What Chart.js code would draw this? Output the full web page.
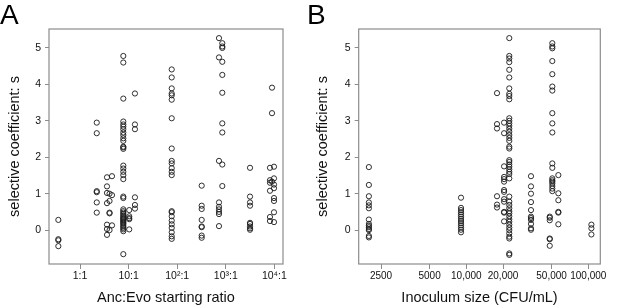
<!DOCTYPE html>
<html>
<head>
<meta charset="utf-8">
<script src="https://cdn.jsdelivr.net/npm/chart.js@4.4.1/dist/chart.umd.min.js"></script>
<style>
  body { margin: 0; background: #fff; }
  .wrap { position: relative; width: 617px; height: 308px; font-family: 'Liberation Sans', Arial, sans-serif; }
  .panel { position: absolute; top: 0; }
  .letter { position: absolute; top: 1px; font-size: 28px; line-height: 28px; color: #000; }
</style>
</head>
<body>
<div class="wrap">
  <canvas id="chartA" class="panel" width="308" height="308" style="left:0"></canvas>
  <canvas id="chartB" class="panel" width="309" height="308" style="left:308px"></canvas>
  <div class="letter" style="left:0">A</div>
  <div class="letter" style="left:307px">B</div>
</div>
<script>
// y axis (shared)
const yTicks = [0, 1, 2, 3, 4, 5];

// panel A: Anc:Evo starting ratio (jittered columns), selective coefficient per column
const ratioTicksA = [1, 10, 100, 1000, 10000];
const ratioLabelsA = ['1:1', '10:1', '10²:1', '10³:1', '10⁴:1'];
const ratioA = [0.358, 2.21, 3.59, 4.05, 4.55, 7.78, 10.3, 13.5, 77.1, 319, 724, 847, 3150, 8110, 8930, 9810];
const sA = [
  [0.28, -0.25, -0.28, -0.44],
  [2.95, 2.66, 1.07, 1.04, 0.76, 0.48],
  [1.45, 1.20, 1.02, 0.74, 0.15, 0.03, -0.13],
  [1.00, 0.80, 0.48, 0.46, 0.0],
  [1.48, 0.96, 0.13],
  [4.78, 4.60, 3.61, 2.98, 2.90, 2.84, 2.77, 2.68, 2.61, 2.52, 2.45, 2.29, 2.27, 2.23, 1.77, 1.69,
   1.60, 1.51, 1.40, 0.92, 0.88, 0.57, 0.52, 0.48, 0.44, 0.40, 0.36, 0.33, 0.30, 0.27, 0.24, 0.21,
   0.18, 0.14, 0.10, 0.06, 0.02, -0.03, -0.66],
  [0.55, 0.38, 0.33, 0.30, 0.02],
  [3.75, 2.90, 2.77, 0.90, 0.69, 0.59],
  [4.41, 4.19, 3.89, 3.75, 3.70, 3.58, 3.07, 2.24, 1.90, 1.83, 1.70, 1.60, 1.51, 0.52, 0.49, 0.38,
   0.26, 0.16, 0.06, -0.06, -0.17, -0.24],
  [1.22, 0.67, 0.58, 0.28, 0.10, 0.08, -0.15, -0.21],
  [5.27, 4.74, 1.90, 0.76, 0.64, 0.57, 0.50, 0.44, 0.11],
  [5.13, 5.04, 5.00, 4.62, 4.26, 3.77, 2.93, 2.68, 1.80, 1.21],
  [1.71, 0.92, 0.76, 0.67, 0.20, 0.17, 0.10, 0.05, 0.01],
  [1.71, 1.37, 1.30, 1.08, 0.36, 0.25],
  [3.91, 3.21, 1.33],
  [1.74, 1.42, 1.25, 1.15, 0.88, 0.80, 0.49, 0.22],
];

// panel B: inoculum size (CFU/mL), jittered columns
const sizeTicksB = [2000, 5000, 10000, 20000, 50000, 100000];
const sizeLabelsB = ['2500', '5000', '10,000', '20,000', '50,000', '100,000'];
const sizeB = [1590, 9050, 17850, 20400, 22500, 33900, 48300, 50700, 56800, 106000];
const sB = [
  [1.73, 1.24, 0.93, 0.76, 0.68, 0.60, 0.29, 0.17, 0.12, 0.08, 0.03, 0.0, -0.16, -0.20],
  [0.89, 0.61, 0.55, 0.49, 0.43, 0.37, 0.31, 0.25, 0.19, 0.13, 0.07, 0.01, -0.06],
  [3.76, 2.91, 2.79, 0.93, 0.70, 0.62],
  [2.95, 2.66, 1.75, 1.46, 1.40, 1.33, 1.10, 1.05, 0.85, 0.78, 0.50, 0.48, 0.24],
  [5.27, 4.78, 4.71, 4.61, 4.40, 4.19, 3.89, 3.74, 3.68, 3.59, 3.07, 3.00, 2.93, 2.86, 2.78, 2.70,
   2.61, 2.53, 2.45, 2.29, 2.24, 1.92, 1.87, 1.80, 1.74, 1.67, 1.60, 1.54, 1.42, 0.92, 0.78, 0.69,
   0.60, 0.52, 0.46, 0.38, 0.30, 0.23, 0.15, 0.07, 0.0, -0.09, -0.18, -0.23, -0.64, -0.68],
  [1.48, 1.20, 1.00, 0.77, 0.55, 0.37, 0.33, 0.28, 0.17, 0.05, 0.01],
  [0.37, 0.34, 0.27, -0.23, -0.25, -0.43],
  [5.13, 5.04, 4.99, 4.64, 4.28, 3.94, 3.83, 3.21, 2.93, 2.68, 1.83, 1.71, 1.42, 1.37, 1.33, 1.28,
   1.21, 1.14, 1.07],
  [1.51, 1.01, 0.82, 0.50, 0.48, 0.16],
  [0.15, 0.05, -0.12],
];

const FONT = "'Liberation Sans', Arial, Helvetica, sans-serif";
const GREY = '#8c8c8c';
const INK = '#111';

function toPoints(xs, groups) {
  const out = [];
  groups.forEach((ys, i) => {
    ys.forEach((y) => out.push({ x: xs[i], y }));
  });
  return out;
}

// R-style frame around the plotting region
const boxPlugin = {
  id: 'box',
  beforeDatasetsDraw(chart) {
    const { ctx, chartArea: a } = chart;
    ctx.save();
    ctx.strokeStyle = GREY;
    ctx.lineWidth = 1.2;
    ctx.strokeRect(a.left, a.top, a.right - a.left, a.bottom - a.top);
    ctx.restore();
  },
};

function makePanel(canvas, opts) {
  const { points, xMin, xMax, xTicks, xLabels, xTitle, xTickSize, yWidth, padRight } = opts;

  return new Chart(canvas, {
    type: 'scatter',
    data: {
      datasets: [
        {
          data: points,
          pointRadius: 2.6,
          pointHoverRadius: 2.6,
          borderWidth: 0.9,
          borderColor: '#1a1a1a',
          backgroundColor: 'rgba(0,0,0,0)',
        },
      ],
    },
    options: {
      responsive: false,
      animation: false,
      devicePixelRatio: 1,
      layout: { padding: { left: 0, right: padRight, top: 29, bottom: 0 } },
      plugins: {
        legend: { display: false },
        tooltip: { enabled: false },
      },
      scales: {
        x: {
          type: 'logarithmic',
          min: xMin,
          max: xMax,
          afterBuildTicks: (s) => { s.ticks = xTicks.map((v) => ({ value: v })); },
          afterFit: (s) => { s.height = 44; },
          grid: { drawOnChartArea: false, drawTicks: true, tickLength: 5, color: GREY },
          border: { display: false },
          ticks: {
            autoSkip: false,
            maxRotation: 0,
            padding: 1,
            color: INK,
            font: { family: FONT, size: xTickSize },
            callback: (v, i) => xLabels[i],
          },
          title: {
            display: true,
            text: xTitle,
            color: INK,
            font: { family: FONT, size: 14.5 },
            padding: { top: 0, bottom: 1 },
          },
        },
        y: {
          type: 'linear',
          min: -0.93,
          max: 5.52,
          afterBuildTicks: (s) => { s.ticks = yTicks.map((v) => ({ value: v })); },
          afterFit: (s) => { s.width = yWidth; },
          grid: { drawOnChartArea: false, drawTicks: true, tickLength: 4, color: GREY },
          border: { display: false },
          ticks: {
            padding: 4,
            color: INK,
            font: { family: FONT, size: 10.5 },
          },
          title: {
            display: true,
            text: 'selective coefficient: s',
            color: INK,
            font: { family: FONT, size: 14.5 },
            padding: { top: 6, bottom: 0 },
          },
        },
      },
    },
    plugins: [boxPlugin],
  });
}

makePanel(document.getElementById('chartA'), {
  points: toPoints(ratioA, sA),
  xMin: 0.23,
  xMax: 15030,
  xTicks: ratioTicksA,
  xLabels: ratioLabelsA,
  xTitle: 'Anc:Evo starting ratio',
  xTickSize: 10.5,
  yWidth: 49,
  padRight: 25,
});

makePanel(document.getElementById('chartB'), {
  points: toPoints(sizeB, sB),
  xMin: 1312,
  xMax: 125400,
  xTicks: sizeTicksB,
  xLabels: sizeLabelsB,
  xTitle: 'Inoculum size (CFU/mL)',
  xTickSize: 10,
  yWidth: 50.7,
  padRight: 16.7,
});
</script>
</body>
</html>
